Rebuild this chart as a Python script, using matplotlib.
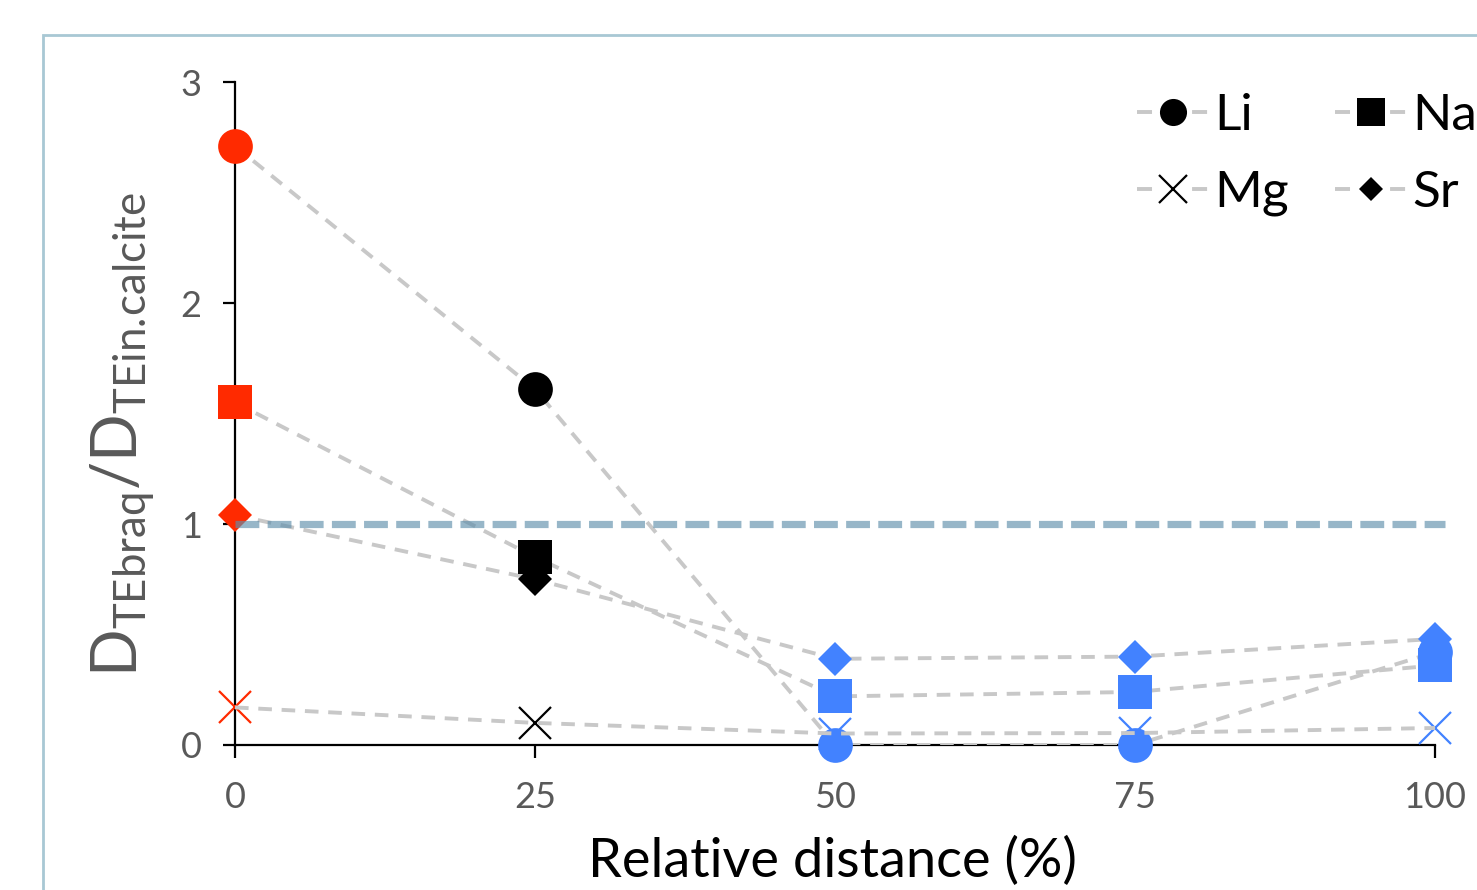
import matplotlib
matplotlib.use("Agg")
from matplotlib import pyplot as plt
from matplotlib.patches import Rectangle
from matplotlib.lines import Line2D

plt.rcParams['font.family'] = ['Lato', 'DejaVu Sans']
plt.rcParams['mathtext.fontset'] = 'custom'
plt.rcParams['mathtext.rm'] = 'Lato'
plt.rcParams['mathtext.it'] = 'Lato'

# relative distance along the profile (%)
distance = [0, 25, 50, 75, 100]

# D(TE, braq) / D(TE, in. calcite)
li = [2.71, 1.61, 0.0, 0.0, 0.42]
na = [1.55, 0.85, 0.22, 0.24, 0.36]
mg = [0.17, 0.10, 0.052, 0.054, 0.077]
sr = [1.04, 0.75, 0.39, 0.40, 0.48]

RED = '#ff2a00'
BLUE = '#4282ff'
GRAY = '#c8c8c8'
point_colors = [RED, 'black', BLUE, BLUE, BLUE]

fig = plt.figure(figsize=(14.77, 8.90), dpi=100)
ax = fig.add_axes([235 / 1477, 145 / 890, 1200 / 1477, 663 / 890])

series = [
    ('Li', li, 'o', 25, 4),
    ('Na', na, 's', 25, 4),
    ('Mg', mg, 'x', 23, 3),
    ('Sr', sr, 'D', 17, 4),
]

# Mg connector sits on top of the Li circles at 50 and 75 %
line_z = {'Li': 2, 'Na': 2, 'Mg': 5, 'Sr': 2}
for name, vals, marker, ms, mz in series:
    ax.plot(distance, vals, color=GRAY, lw=2.8, linestyle=(0, (3.5, 2.5)),
            dash_capstyle='butt', zorder=line_z[name])
    for x, y, c in zip(distance, vals, point_colors):
        ax.plot(x, y, marker=marker, ms=ms, mew=1.6 if marker == 'x' else 0,
                color=c, linestyle='none', clip_on=False, zorder=mz)

# reference level D ratio = 1
ax.axhline(1, xmin=0, xmax=1.008, color='#5f8fab', alpha=0.65, lw=5.2,
           linestyle=(0, (3.3, 1.15)), clip_on=False, zorder=6)

ax.set_xlim(0, 100)
ax.set_ylim(0, 3)
ax.set_xticks(distance)
ax.set_yticks([0, 1, 2, 3])
for side in ('top', 'right'):
    ax.spines[side].set_visible(False)
for side in ('left', 'bottom'):
    ax.spines[side].set_linewidth(1.6)
    ax.spines[side].set_zorder(1)
ax.tick_params(direction='out', length=9, width=1.6, colors='black',
               labelcolor='#595959', labelsize=26)
ax.tick_params(axis='y', pad=15)
ax.tick_params(axis='x', pad=17)

ax.set_xlabel('Relative distance (%)', fontsize=39, color='black')
ax.xaxis.set_label_coords(0.498, -0.137)
ax.set_ylabel(r'$\mathregular{D_{TEbraq}/D_{TEin.\!calcite}}$', fontsize=45,
              color='#595959')
ax.yaxis.set_label_coords(-0.064, 0.468)

handles = []
for name, vals, marker, ms, mz in series:
    lms = {'o': 19.5, 's': 20, 'x': 20, 'D': 12.7}[marker]
    handles.append(Line2D([], [], color=GRAY, lw=2.8,
                          linestyle=(0, (3.86, 10.3)),
                          marker=marker, ms=lms, mfc='black', mec='black',
                          mew=1.6 if marker == 'x' else 0, label=name))
order = [0, 2, 1, 3]
fig.legend([handles[i] for i in order], [series[i][0] for i in order],
           loc='upper left', bbox_to_anchor=(1137 / 1477, 1 - 93 / 890),
           ncol=2, frameon=False, fontsize=37, handlelength=1.4,
           handletextpad=0.1, columnspacing=0.9, labelspacing=0.6,
           borderaxespad=0, borderpad=0)

# slide frame around the chart
fig.add_artist(Rectangle((43 / 1477, -0.1), 2.0, 0.1 + 1 - 35 / 890,
                         transform=fig.transFigure, fill=False,
                         edgecolor='#a8c8d4', lw=2))

fig.savefig('out.png', dpi=100)
